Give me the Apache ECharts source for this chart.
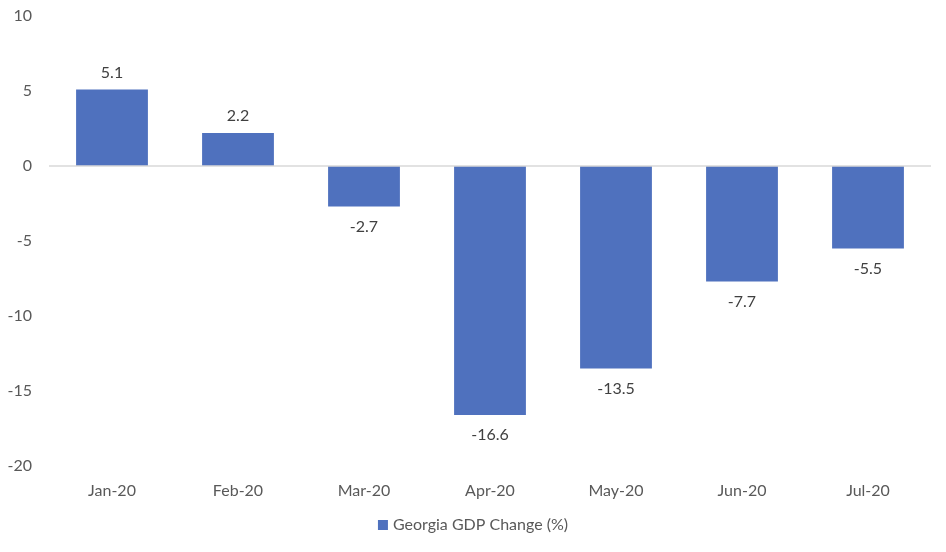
<!DOCTYPE html>
<html lang="en">
<head>
  <meta charset="UTF-8">
  <title>Georgia GDP Change</title>
  <script src="https://cdn.jsdelivr.net/npm/echarts@6/dist/echarts.min.js"></script>
  <style>
    html, body { margin: 0; padding: 0; background: #fff; }
    #chart { width: 946px; height: 552px; }
  </style>
</head>
<body>
  <div id="chart"></div>
<script>
  // 数据
  var months = ['Jan-20', 'Feb-20', 'Mar-20', 'Apr-20', 'May-20', 'Jun-20', 'Jul-20']
  var gdpChange = [5.1, 2.2, -2.7, -16.6, -13.5, -7.7, -5.5]
  var seriesName = 'Georgia GDP Change (%)'

  var font = 'Lato, "Open Sans", sans-serif'
  var textColor = '#595959'

  var chart = echarts.init(document.getElementById('chart'))

  chart.setOption({
    animation: false,
    textStyle: { fontFamily: font },
    grid: {
      left: 49,
      right: 15,
      top: 16,
      bottom: 86,
      containLabel: false
    },
    legend: {
      bottom: 14,
      left: 'center',
      itemWidth: 10,
      itemHeight: 10,
      itemGap: 4,
      icon: 'rect',
      textStyle: { color: textColor, fontSize: 16, fontFamily: font },
      data: [seriesName]
    },
    xAxis: {
      type: 'category',
      data: months,
      axisLine: { show: false },
      axisTick: { show: false },
      axisLabel: {
        color: textColor,
        fontSize: 16,
        fontFamily: font,
        margin: 17
      }
    },
    yAxis: {
      type: 'value',
      min: -20,
      max: 10,
      interval: 5,
      axisLine: { show: false },
      axisTick: { show: false },
      splitLine: { show: false },
      axisLabel: {
        color: textColor,
        fontSize: 16,
        fontFamily: font,
        margin: 17
      }
    },
    series: [{
      name: seriesName,
      type: 'bar',
      barWidth: '57%',
      itemStyle: { color: '#4f71be' },
      data: gdpChange.map(function (v) {
        return {
          value: v,
          label: { position: v >= 0 ? 'top' : 'bottom', distance: v >= 0 ? 9 : 12 }
        }
      }),
      label: {
        show: true,
        color: '#404040',
        fontSize: 16,
        fontFamily: font
      },
      markLine: {
        silent: true,
        symbol: 'none',
        label: { show: false },
        lineStyle: { color: '#d9d9d9', width: 1.5, type: 'solid' },
        data: [{ yAxis: 0 }]
      }
    }]
  })
</script>
</body>
</html>
